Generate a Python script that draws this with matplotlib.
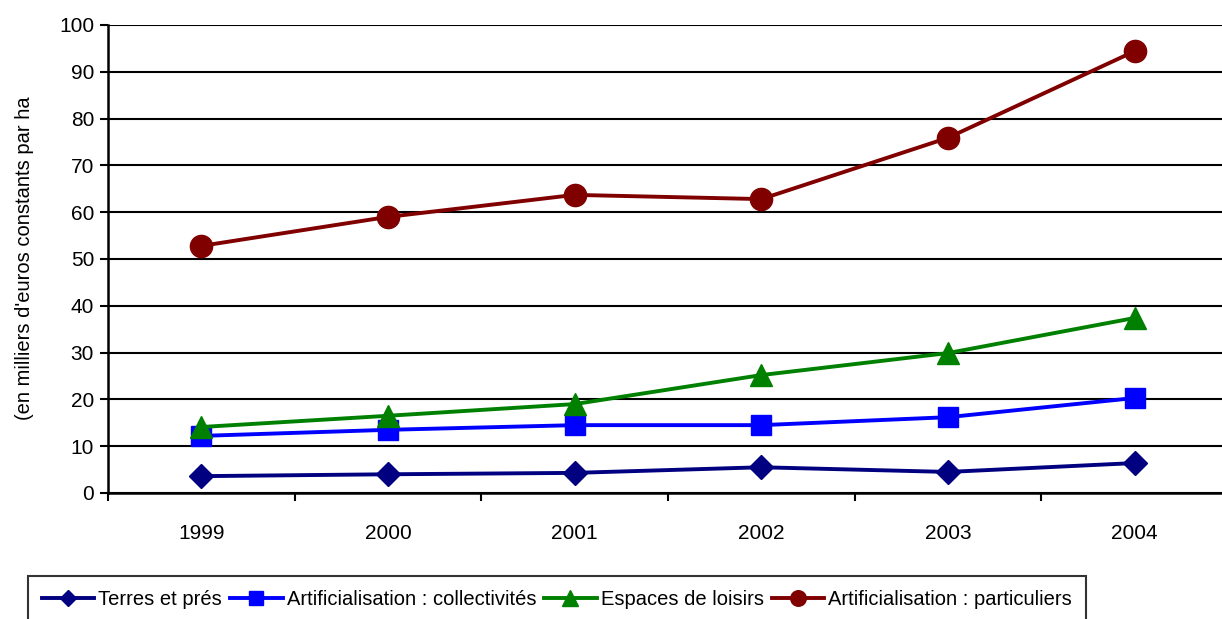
import matplotlib.pyplot as plt
import numpy as np

plt.rcParams['font.family'] = ['Liberation Sans Narrow', 'Liberation Sans', 'DejaVu Sans']

years = ["1999", "2000", "2001", "2002", "2003", "2004"]
terres = [3.6, 4.0, 4.3, 5.5, 4.5, 6.4]
collectivites = [12.2, 13.5, 14.5, 14.5, 16.2, 20.3]
loisirs = [14.1, 16.5, 19.0, 25.2, 29.9, 37.4]
particuliers = [52.8, 59.0, 63.7, 62.8, 75.9, 94.4]

labels = ["Terres et prés", "Artificialisation : collectivités",
          "Espaces de loisirs", "Artificialisation : particuliers"]
colors = ["#000080", "#0000FF", "#008000", "#800000"]
markers = ["D", "s", "^", "o"]
sizes = [12, 15, 16, 16]

W, H = 1222, 619
fig = plt.figure(figsize=(W / 100, H / 100), dpi=100)
ax = fig.add_axes([108 / W, 1 - 493 / H, (1228 - 108) / W, (493 - 25) / H])

x = np.arange(len(years))
for vals, lab, c, m, s in zip([terres, collectivites, loisirs, particuliers], labels, colors, markers, sizes):
    ax.plot(x, vals, color=c, lw=2.8, marker=m, markersize=s, label=lab, clip_on=False, zorder=3)

ax.set_xlim(-0.5, 5.5)
ax.set_ylim(0, 100)
ax.set_yticks(range(0, 101, 10))
ax.set_xticks(x)
ax.set_xticklabels(years)
ax.set_xticks(np.arange(-0.5, 5.6, 1), minor=True)
ax.tick_params(axis='x', which='major', length=0, pad=22, labelsize=15)
ax.tick_params(axis='x', which='minor', length=6, width=1.5, direction='out')
ax.tick_params(axis='y', length=6, width=1.5, labelsize=15, pad=4)
ax.yaxis.grid(True, color='black', lw=1.5)
ax.set_axisbelow(True)
for sp in ['top', 'right']:
    ax.spines[sp].set_visible(False)
for sp in ['left', 'bottom']:
    ax.spines[sp].set_linewidth(1.8)

fig.text(25 / W, 1 - 258 / H, "(en milliers d'euros constants par ha", rotation=90,
         ha='center', va='center', fontsize=14.5)

leg = fig.legend(loc='upper left', bbox_to_anchor=(28 / W, 1 - 576 / H), ncol=4, fontsize=14.5,
                 frameon=True, fancybox=False, edgecolor='black', handlelength=2.6,
                 markerscale=0.7, columnspacing=0.4, handletextpad=0.2, borderaxespad=0,
                 borderpad=0.7)
leg.get_frame().set_linewidth(1.5)

fig.savefig("out.png", dpi=100)
